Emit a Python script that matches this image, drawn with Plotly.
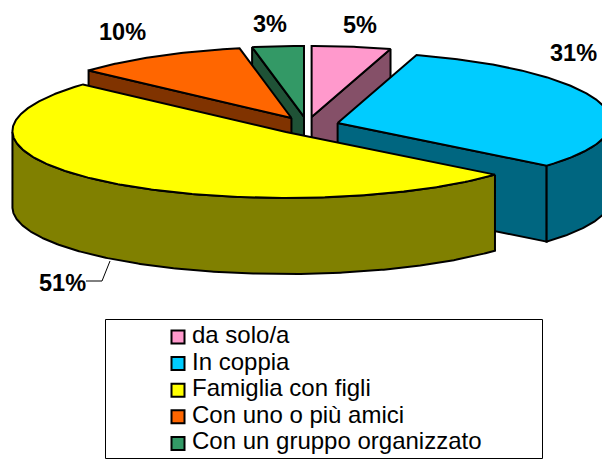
import numpy as np
import plotly.graph_objects as go

# ---- data ----
categories = ["da solo/a", "In coppia", "Famiglia con figli", "Con uno o più amici", "Con un gruppo organizzato"]
shares = [4.6, 31.4, 50.85, 10.15, 3.0]
labels = ["5%", "31%", "51%", "10%", "3%"]
top_colors = ["#FF99CC", "#00CCFF", "#FFFF00", "#FF6600", "#339966"]
side_colors = ["#855068", "#006680", "#808000", "#803300", "#1F5236"]

# ---- projection of the tilted, exploded pie onto the page ----
CX, CY = 307.0, 125.5
EX, EY = 32.0, 8.6
DEPTH = 76.0
W, H = 602, 459

edges = np.concatenate([[0], np.cumsum(shares)]) / sum(shares) * 360
slices = []
for i in range(len(shares)):
    a0, a1 = edges[i], edges[i + 1]
    mid = np.radians((a0 + a1) / 2)
    slices.append(dict(a0=a0, a1=a1,
                       ax=CX + EX * np.sin(mid), ay=CY - EY * np.cos(mid)))


def rim(s, a0, a1):
    t = np.radians(np.linspace(a0, a1, max(2, int(abs(a1 - a0) * 2))))
    rx = 273.5 + 3.5 * np.cos(t)
    ry = 68.5 + 2.5 * np.cos(t)
    return s["ax"] + rx * np.sin(t), s["ay"] - ry * np.cos(t)


fig = go.Figure()


def poly(x, y, color):
    fig.add_trace(go.Scatter(x=list(x) + [x[0]], y=list(y) + [y[0]], mode="lines", fill="toself",
                             fillcolor=color, line=dict(color="black", width=2),
                             hoverinfo="skip", showlegend=False))


def cut_face(s, ang, color):
    px, py = rim(s, ang, ang)
    x = [s["ax"], px[0], px[0], s["ax"]]
    y = [s["ay"], py[0], py[0] + DEPTH, s["ay"] + DEPTH]
    poly(x, y, color)


def outer_wall(s, color):
    lo, hi = max(s["a0"], 90), min(s["a1"], 270)
    if hi <= lo:
        return
    x, y = rim(s, lo, hi)
    poly(np.concatenate([x, x[::-1]]), np.concatenate([y, y[::-1] + DEPTH]), color)


def top(s, color):
    x, y = rim(s, s["a0"], s["a1"])
    poly(np.concatenate([[s["ax"]], x]), np.concatenate([[s["ay"]], y]), color)


# back to front: pink, green, orange, blue, yellow
cut_face(slices[0], slices[0]["a1"], side_colors[0]); top(slices[0], top_colors[0])
cut_face(slices[4], slices[4]["a0"], side_colors[4]); top(slices[4], top_colors[4])
cut_face(slices[3], slices[3]["a0"], side_colors[3]); top(slices[3], top_colors[3])
cut_face(slices[1], slices[1]["a1"], side_colors[1]); outer_wall(slices[1], side_colors[1]); top(slices[1], top_colors[1])
outer_wall(slices[2], side_colors[2]); top(slices[2], top_colors[2])

# leader of the 51% label
fig.add_shape(type="path", path="M 110 261 L 102 281 L 86 281", line=dict(color="black", width=1))

# percentage labels (page positions)
label_xy = [(360, 25), (573, 53), (62, 283), (122, 32), (270, 24)]
for lab, (x, y) in zip(labels, label_xy):
    fig.add_annotation(x=x, y=y, text="<b>%s</b>" % lab, showarrow=False, xref="x", yref="y",
                       font=dict(family="Liberation Sans", size=23.5, color="black"),
                       xanchor="center", yanchor="middle")

# legend box, markers and entries
fig.add_shape(type="rect", x0=105.5, y0=319.5, x1=542.5, y1=458.5, line=dict(color="black", width=1),
              fillcolor="white", layer="below")
rows = [337 + 26.6 * i for i in range(len(categories))]
fig.add_trace(go.Scatter(x=[178] * len(rows), y=rows, mode="markers", hoverinfo="skip", showlegend=False,
                         marker=dict(symbol="square", size=13, color=top_colors, line=dict(color="black", width=2))))
fig.add_trace(go.Scatter(x=[192] * len(rows), y=rows, mode="text", text=categories,
                         textposition="middle right", hoverinfo="skip", showlegend=False,
                         textfont=dict(family="Liberation Sans", size=24, color="black")))

fig.update_layout(width=W, height=H, autosize=False, margin=dict(l=0, r=0, t=0, b=0),
                  paper_bgcolor="white", plot_bgcolor="white", showlegend=False,
                  xaxis=dict(range=[0, W], visible=False, fixedrange=True),
                  yaxis=dict(range=[H, 0], visible=False, fixedrange=True))
fig.write_html("out.html", config=dict(displayModeBar=False),
               post_script="document.body.style.margin='0';document.body.style.overflow='hidden';")
